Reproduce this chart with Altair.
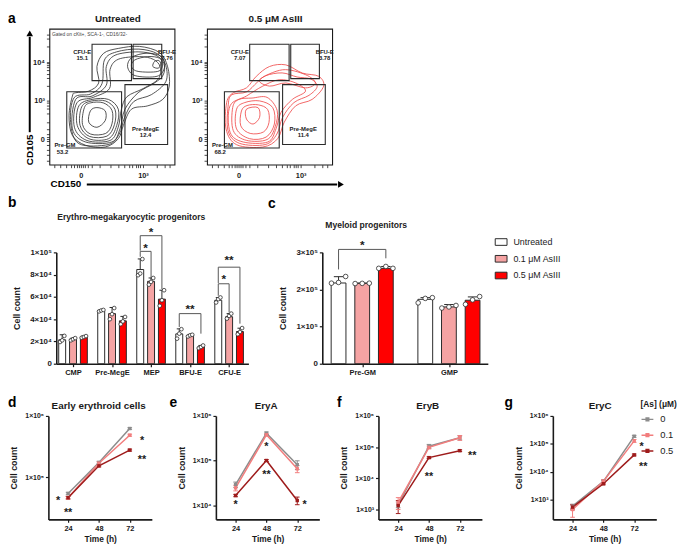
import altair as alt
import pandas as pd

FONT = "Liberation Sans"
INK = "#1a1a1a"
NOVIEW = alt.ViewBackground(stroke="transparent", strokeWidth=0)

# ---------------- panel a : flow cytometry ----------------
flow_titles = ["Untreated", "0.5 μM AsIII"]
flow_line_colors = ["#333333", "#ef4a4a"]
flow_x_ticks = [25.2, 74.8]
flow_x_labels = ["0", "10³"]
flow_y_ticks = [18.8, 47.1, 75.4]
flow_y_labels = ["0", "10³", "10⁴"]
flow_x_minor = [4, 9, 13, 17, 20, 22, 23.8, 26.6, 28.4, 30.5, 34, 40, 49, 55, 60, 63.5, 66.5, 69, 71, 72.8, 86, 92, 96]
flow_y_minor = [3, 7, 11, 14.5, 17.2, 20.4, 22.5, 26, 31, 38, 41.5, 43.8, 45.6, 58, 63.5, 67, 69.6, 71.6, 73.2, 74.4, 87, 92.5, 96]

gate_names = ["CFU-E", "BFU-E", "Pre-MegE", "Pre-GM"]
gate_x1 = [34.1, 66.9, 60.4, 13.9]
gate_x2 = [65.6, 89.8, 94.5, 57.7]
gate_y1 = [61.8, 63.3, 14.9, 12.3]
gate_y2 = [88.6, 88.6, 58.9, 53.6]
gate_name_x = [26.2, 94.0, 76.9, 12.4]
gate_name_y = [83.1, 83.1, 26.3, 14.7]
gate_freq_x = [26.2, 94.0, 76.9, 10.5]
gate_freq_y = [78.3, 78.3, 21.5, 9.4]
freq_untreated = ["15.1", "7.76", "12.4", "53.2"]
freq_asiii = ["7.07", "3.78", "11.4", "68.2"]

untreated_outer = [(18.4, 50.5), (15.7, 36.0), (18.4, 21.5), (28.9, 14.3), (44.6, 13.0), (55.1, 19.1), (59.1, 28.8), (65.6, 40.8), (78.7, 43.3), (90.6, 48.0), (95.8, 57.8), (94.5, 72.0), (88.0, 82.5), (72.0, 87.0), (55.1, 85.5), (43.3, 81.9), (38.0, 72.2), (39.4, 60.1), (31.5, 54.1), (21.0, 52.9)]
untreated_ring_a = [(19.7, 49.2), (17.0, 31.0), (23.5, 15.5), (47.0, 14.8), (55.8, 22.5), (60.0, 34.5), (67.5, 46.5), (81.5, 51.5), (93.0, 61.0), (93.0, 73.0), (86.5, 81.5), (71.5, 85.0), (53.8, 83.0), (44.0, 77.0), (42.0, 59.5), (33.0, 52.0)]
untreated_mid = [(21.0, 48.0), (18.4, 26.3), (28.9, 16.7), (49.9, 16.7), (56.4, 26.3), (60.4, 40.8), (70.9, 52.9), (84.0, 60.1), (91.0, 66.0), (91.5, 74.5), (85.0, 80.5), (70.9, 83.0), (52.5, 80.5), (45.5, 72.2), (45.5, 58.5), (34.1, 50.5)]
untreated_ring_b = [(22.0, 45.5), (20.0, 27.5), (30.0, 17.8), (48.5, 17.8), (55.0, 27.5), (57.5, 40.5), (62.0, 50.0), (75.0, 56.0), (87.0, 63.0), (88.5, 72.0), (83.0, 77.5), (72.0, 79.5), (55.0, 77.5), (48.5, 70.0), (48.0, 56.0), (35.0, 49.5)]
untreated_pregm = [(23.6, 43.3), (22.3, 28.8), (31.5, 19.1), (47.2, 19.1), (53.8, 28.8), (55.1, 40.8), (47.2, 48.0), (34.1, 48.0)]
untreated_ring_c = [(25.8, 42.5), (24.5, 29.0), (32.0, 20.8), (46.0, 21.0), (52.0, 29.5), (52.5, 40.5), (45.0, 46.8), (33.5, 46.8)]
untreated_ring = [(28.0, 42.0), (26.5, 29.5), (33.0, 22.5), (45.0, 23.0), (50.0, 30.0), (50.0, 40.0), (43.0, 45.5), (33.0, 45.5)]
untreated_core = [(32.8, 39.6), (31.5, 31.2), (38.0, 27.5), (44.6, 32.4), (44.6, 39.6), (38.0, 42.0)]
untreated_upper_ring = [(66.0, 79.0), (62.5, 72.0), (68.5, 65.5), (86.0, 65.0), (92.0, 71.5), (89.5, 79.5), (78.0, 82.0)]
untreated_upper = [(68.2, 77.0), (65.6, 72.2), (70.9, 68.6), (86.6, 68.6), (90.5, 73.4), (88.0, 78.3), (78.7, 79.5)]
untreated_upper_core = [(84.0, 75.9), (82.7, 72.2), (87.0, 71.0), (89.0, 74.0), (87.5, 76.6)]

asiii_outer = [(15.7, 45.7), (15.2, 26.3), (23.6, 14.7), (44.6, 13.0), (56.4, 19.1), (61.7, 31.2), (70.9, 43.3), (84.0, 48.0), (93.2, 57.8), (89.2, 65.0), (76.1, 67.4), (63.0, 73.4), (49.9, 72.2), (39.4, 65.0), (31.5, 56.5), (21.0, 52.9)]
asiii_ring_a = [(17.0, 44.5), (16.8, 25.0), (26.0, 15.7), (46.5, 14.8), (55.8, 22.5), (60.4, 34.8), (69.5, 45.7), (81.5, 51.0), (88.0, 57.5), (83.0, 63.0), (72.0, 64.5), (60.0, 67.5), (47.0, 65.5), (40.0, 60.5), (31.5, 53.5), (20.0, 51.5)]
asiii_mid = [(18.4, 43.3), (18.4, 23.9), (28.9, 16.7), (48.6, 16.7), (55.1, 26.3), (59.1, 38.4), (68.2, 48.0), (78.7, 54.1), (70.9, 60.1), (57.7, 62.5), (44.6, 57.8), (31.5, 50.5)]
asiii_ring_b = [(20.5, 42.0), (21.0, 25.0), (31.5, 17.9), (48.0, 18.5), (54.5, 28.0), (56.0, 40.0), (48.0, 49.5), (36.0, 49.0), (25.5, 48.0)]
asiii_tail = [(42.0, 62.5), (60.4, 69.8), (78.7, 66.2), (86.6, 60.1), (78.7, 56.5), (63.0, 60.1), (49.9, 57.8)]
asiii_pregm = [(23.6, 40.8), (23.6, 26.3), (34.1, 19.1), (47.2, 20.3), (53.8, 29.9), (52.5, 42.0), (42.0, 46.9), (30.2, 45.7)]
asiii_ring = [(27.5, 39.5), (27.0, 28.5), (34.5, 23.0), (45.0, 24.0), (49.5, 31.0), (48.5, 40.5), (41.0, 44.0), (32.0, 43.5)]
asiii_core = [(31.5, 40.8), (31.5, 33.6), (36.8, 29.9), (42.0, 34.8), (40.7, 42.0)]

flow_contours = [
    [untreated_outer, untreated_ring_a, untreated_mid, untreated_ring_b, untreated_pregm, untreated_ring_c,
     untreated_ring, untreated_core, untreated_upper_ring, untreated_upper, untreated_upper_core],
    [asiii_outer, asiii_ring_a, asiii_mid, asiii_ring_b, asiii_tail, asiii_pregm, asiii_ring, asiii_core],
]

# ---------------- panel b / c : bar charts ----------------
treatments = ["Untreated", "0.1 μM AsIII", "0.5 μM AsIII"]
bar_fills = ["#ffffff", "#f5a3a3", "#ff0000"]

b_groups = ["CMP", "Pre-MegE", "MEP", "BFU-E", "CFU-E"]
b_mean_untreated = [21500, 47500, 84600, 26800, 57000]
b_mean_low = [22000, 45000, 74000, 25300, 42200]
b_mean_high = [24000, 38500, 58000, 15000, 28900]
b_sd_untreated = [4500, 700, 9500, 4500, 2400]
b_sd_low = [1000, 5500, 3000, 1000, 2800]
b_sd_high = [800, 4000, 8000, 1400, 3000]
b_pts_untreated = [[19500, 21000, 25000], [47000, 47800, 48300], [79500, 81000, 94000], [22500, 27000, 31000], [55000, 58000, 59500]]
b_pts_low = [[21000, 22000, 23000], [40000, 44500, 50000], [71000, 73500, 77000], [24500, 25500, 26000], [40500, 43000, 45000]]
b_pts_high = [[23300, 24000, 24800], [35500, 38000, 42000], [52000, 57000, 66000], [14000, 15000, 16400], [26500, 28500, 32000]]
b_y_ticks = [0, 20000, 40000, 60000, 80000, 100000]
b_y_labels = ["0", "2×10⁴", "4×10⁴", "6×10⁴", "8×10⁴", "1×10⁵"]
# brackets: group, left treatment, right treatment, top, left leg end, right leg end, label, label height
b_brackets = [
    (2, 0, 1, 100900, 96000, 76000, "*", 106500),
    (2, 0, 2, 115000, 101500, 67000, "*", 121000),
    (3, 0, 2, 45000, 33000, 27000, "**", 51500),
    (4, 0, 1, 71800, 61000, 46000, "*", 78500),
    (4, 0, 2, 86700, 72500, 36000, "**", 95500),
]

c_groups = ["Pre-GM", "GMP"]
c_mean_untreated = [217500, 173500]
c_mean_low = [216700, 153000]
c_mean_high = [257000, 171000]
c_sd_untreated = [17000, 4500]
c_sd_low = [500, 6500]
c_sd_high = [5000, 9000]
c_pts_untreated = [[217000, 219000, 235000], [164000, 176000, 178000]]
c_pts_low = [[216000, 216500, 217000], [150000, 153000, 157000]]
c_pts_high = [[257000, 262000, 257000], [160000, 172000, 181000]]
c_y_ticks = [0, 100000, 200000, 300000]
c_y_labels = ["0", "1×10⁵", "2×10⁵", "3×10⁵"]
c_brackets = [(0, 0, 2, 308000, 254000, 284000, "*", 327000)]

# ---------------- panels d-g : time courses ----------------
doses = ["0", "0.1", "0.5"]
dose_colors = ["#8c8c8c", "#f27d7d", "#9e1b1b"]
times = [24, 48, 72]

d_mean_0 = [54600, 174600, 624000]
d_mean_01 = [46700, 170000, 486000]
d_mean_05 = [46700, 154000, 278000]
d_sd_0 = [2500, 8000, 20000]
d_sd_01 = [2500, 8000, 18000]
d_sd_05 = [2000, 6000, 10000]

e_mean_0 = [29300, 412000, 81500]
e_mean_01 = [24700, 378000, 66000]
e_mean_05 = [16700, 101000, 12900]
e_sd_0 = [4000, 25000, 18000]
e_sd_01 = [3500, 20000, 12000]
e_sd_05 = [1000, 5000, 2500]

f_mean_0 = [1440, 107000, 200000]
f_mean_01 = [1700, 98000, 200000]
f_mean_05 = [1340, 46000, 77000]
f_sd_0 = [300, 15000, 30000]
f_sd_01 = [700, 10000, 35000]
f_sd_05 = [600, 3000, 5000]

g_mean_0 = [583, 4500, 186000]
g_mean_01 = [442, 4500, 128000]
g_mean_05 = [537, 3700, 40000]
g_sd_0 = [100, 400, 15000]
g_sd_01 = [210, 700, 15000]
g_sd_05 = [110, 300, 3000]

d_star_x = [16.3, 24, 81.6, 81.6]
d_star_y = [46400, 29400, 430000, 212000]
d_star_t = ["*", "**", "*", "**"]
e_star_x = [24, 48, 48, 77.8]
e_star_y = [12100, 235000, 56000, 12100]
e_star_t = ["*", "*", "**", "*"]
f_star_x = [48, 81.7]
f_star_y = [13400, 66000]
f_star_t = ["**", "**"]
g_star_x = [77.8, 79.1]
g_star_y = [94000, 18200]
g_star_t = ["*", "**"]


def lab_expr(vals, labels):
    s = "''"
    for v, l in reversed(list(zip(vals, labels))):
        s = f"datum.value == {v!r} ? '{l}' : {s}"
    return s


def note(txt, x, y, size, bold=True, align="left", color="black"):
    return alt.Chart(pd.DataFrame({"t": [txt]})).mark_text(
        align=align, baseline="alphabetic", font=FONT, fontSize=size,
        fontWeight="bold" if bold else "normal", color=color
    ).encode(x=alt.value(x), y=alt.value(y), text="t:N")


def letter(ch, x, y):
    return note(ch, x, y, 14)


def letter_cell(ch, y, w):
    """Narrow cell that starts a row and carries the panel letter."""
    return letter(ch, 0, y).properties(width=w, height=1, view=NOVIEW)


def gap_cell(w):
    """Empty cell used to open a gap between two panels of a row."""
    return alt.Chart(pd.DataFrame({"t": pd.Series([], dtype=str)})).mark_text().encode(
        x=alt.value(0), y=alt.value(0), text="t:N").properties(width=w, height=1, view=NOVIEW)


# ---------- flow panels ----------
def flow_chart(k):
    rows = []
    for ci, loop in enumerate(flow_contours[k]):
        for i, (x, y) in enumerate(loop):
            rows.append({"cid": ci, "i": i, "x": x, "y": y})
    cdf = pd.DataFrame(rows)
    xsc = alt.Scale(domain=[0, 100], nice=False, zero=False)
    ysc = alt.Scale(domain=[0, 100], nice=False, zero=False)
    common = dict(domain=False, grid=False, tickSize=3, tickColor=INK, tickWidth=0.8,
                  labelFont=FONT, labelFontSize=7.5, labelFontWeight="bold", labelColor=INK,
                  labelOverlap=False, labelFlush=False, labelBound=False, title=None)
    xax = alt.Axis(values=flow_x_ticks + flow_x_minor, labelExpr=lab_expr(flow_x_ticks, flow_x_labels), labelPadding=4, **common)
    yax = alt.Axis(values=flow_y_ticks + flow_y_minor, labelExpr=lab_expr(flow_y_ticks, flow_y_labels), labelPadding=2, **common)

    def X(f):
        return alt.X(f, scale=xsc, axis=xax)

    def Y(f):
        return alt.Y(f, scale=ysc, axis=yax)

    lines = alt.Chart(cdf).mark_line(interpolate="cardinal-closed", strokeWidth=0.85, color=flow_line_colors[k]).encode(
        x=X("x:Q"), y=Y("y:Q"), detail="cid:N", order="i:Q")
    gdf = pd.DataFrame({"x1": gate_x1, "x2": gate_x2, "y1": gate_y1, "y2": gate_y2})
    gates = alt.Chart(gdf).mark_rect(filled=False, color="#2a2a2a", strokeWidth=1.1).encode(
        x=X("x1:Q"), x2="x2:Q", y=Y("y1:Q"), y2="y2:Q")
    freqs = [freq_untreated, freq_asiii][k]
    tdf = pd.DataFrame({
        "x": gate_name_x + gate_freq_x,
        "y": gate_name_y + gate_freq_y,
        "t": gate_names + freqs,
    })
    texts = alt.Chart(tdf).mark_text(font=FONT, fontSize=6, fontWeight="bold", color=INK).encode(
        x=X("x:Q"), y=Y("y:Q"), text="t:N")
    layers = [lines, gates, texts, note(flow_titles[k], 69.5, -6.5, 10, align="center", color=INK)]
    if k == 0:
        layers.append(alt.Chart(pd.DataFrame({"x": [2.0], "y": [96.2], "t": ["Gated on cKit+, SCA-1-, CD16/32-"]})).mark_text(
            align="left", font=FONT, fontSize=5, color="#444").encode(x=X("x:Q"), y=Y("y:Q"), text="t:N"))
        # axis arrows spanning the panel
        layers.append(alt.Chart(pd.DataFrame({"x": [-15.7], "y": [23.9], "y2": [94.0]})).mark_rule(strokeWidth=2, color="black").encode(
            x=X("x:Q"), y=Y("y:Q"), y2="y2:Q"))
        layers.append(alt.Chart(pd.DataFrame({"x": [-15.7], "y": [96.5]})).mark_point(
            shape="triangle-up", filled=True, size=45, color="black", opacity=1).encode(x=X("x:Q"), y=Y("y:Q")))
        layers.append(alt.Chart(pd.DataFrame({"x": [-15.7], "y": [10.9], "t": ["CD105"]})).mark_text(
            angle=270, font=FONT, fontSize=10, fontWeight="bold", color="black").encode(x=X("x:Q"), y=Y("y:Q"), text="t:N"))
        layers.append(alt.Chart(pd.DataFrame({"x": [29.9], "x2": [230.0], "y": [-14.5]})).mark_rule(strokeWidth=2, color="black").encode(
            x=X("x:Q"), x2="x2:Q", y=Y("y:Q")))
        layers.append(alt.Chart(pd.DataFrame({"x": [233.0], "y": [-14.5]})).mark_point(
            shape="triangle-right", filled=True, size=45, color="black", opacity=1).encode(x=X("x:Q"), y=Y("y:Q")))
        layers.append(alt.Chart(pd.DataFrame({"x": [13.2], "y": [-14.5], "t": ["CD150"]})).mark_text(
            font=FONT, fontSize=10, fontWeight="bold", color="black").encode(x=X("x:Q"), y=Y("y:Q"), text="t:N"))
    return alt.layer(*layers).properties(
        width=127, height=138,
        view=alt.ViewBackground(stroke=INK, strokeWidth=1.1),
    )


# ---------- bar panels ----------
def bar_chart(groups, means, sds, pts, brackets, gap, half, cap, spread, dot_size, domain_x,
              y_ticks, y_labels, y_max, width, title, title_pos, legend, tpad, let):
    bars, dots = [], []
    for t in range(3):
        for g, name in enumerate(groups):
            pos = g * gap + t
            m = means[t][g]
            bars.append({"treat": treatments[t], "pos": pos, "x1": pos - half, "x2": pos + half,
                         "mean": m, "base": 0, "hi": m + sds[t][g], "c1": pos - cap, "c2": pos + cap})
            for j, v in enumerate(pts[t][g]):
                dots.append({"px": pos + (j - 1) * spread, "val": v})
    bdf = pd.DataFrame(bars)
    ddf = pd.DataFrame(dots)
    segs, labs = [], []
    for (g, tl, tr, top, le, re, lab, ly) in brackets:
        xl, xr = g * gap + tl, g * gap + tr
        segs += [{"x": xl, "x2": xr, "y": top, "y2": top},
                 {"x": xl, "x2": xl, "y": le, "y2": top},
                 {"x": xr, "x2": xr, "y": re, "y2": top}]
        labs.append({"x": (xl + xr) / 2, "y": ly, "t": lab})
    sdf = pd.DataFrame(segs)
    ldf = pd.DataFrame(labs)

    xsc = alt.Scale(domain=domain_x, nice=False, zero=False)
    ysc = alt.Scale(domain=[0, y_max], nice=False)
    centers = [g * gap + 1 for g in range(len(groups))]
    xax = alt.Axis(values=centers, labelExpr=lab_expr(centers, groups), title=None, grid=False,
                   domainColor=INK, domainWidth=1.6, tickColor=INK, tickWidth=1.2, tickSize=3,
                   labelFont=FONT, labelFontSize=7.6, labelFontWeight="bold", labelColor=INK,
                   labelPadding=2, labelOverlap=False, labelFlush=False, labelAngle=0)
    yax = alt.Axis(values=y_ticks, labelExpr=lab_expr(y_ticks, y_labels), title="Cell count",
                   titleFont=FONT, titleFontSize=9, titleFontWeight="bold", titleColor=INK, titlePadding=tpad,
                   grid=False, domainColor=INK, domainWidth=1.6, tickColor=INK, tickWidth=1.2, tickSize=3,
                   labelFont=FONT, labelFontSize=8, labelFontWeight="bold", labelColor=INK, labelPadding=2,
                   labelOverlap=False, labelFlush=False)

    def X(f):
        return alt.X(f, scale=xsc, axis=xax)

    def Y(f):
        return alt.Y(f, scale=ysc, axis=yax)

    fill = alt.Fill("treat:N", scale=alt.Scale(domain=treatments, range=bar_fills), legend=legend)
    bar_l = alt.Chart(bdf).mark_rect(stroke="#2a2a2a", strokeWidth=1).encode(
        x=X("x1:Q"), x2="x2:Q", y=Y("mean:Q"), y2="base:Q", fill=fill)
    err_l = alt.Chart(bdf).mark_rule(color="#2a2a2a", strokeWidth=1).encode(x=X("pos:Q"), y=Y("mean:Q"), y2="hi:Q")
    cap_l = alt.Chart(bdf).mark_rule(color="#2a2a2a", strokeWidth=1).encode(x=X("c1:Q"), x2="c2:Q", y=Y("hi:Q"))
    dot_l = alt.Chart(ddf).mark_point(shape="circle", filled=True, fill="white", stroke="#2a2a2a", strokeWidth=0.8,
                                      size=dot_size, opacity=1).encode(x=X("px:Q"), y=Y("val:Q"))
    brk_l = alt.Chart(sdf).mark_rule(color="#555555", strokeWidth=1).encode(x=X("x:Q"), x2="x2:Q", y=Y("y:Q"), y2="y2:Q")
    star_l = alt.Chart(ldf).mark_text(font=FONT, fontSize=12, fontWeight="bold", color=INK, baseline="middle", dy=3).encode(
        x=X("x:Q"), y=Y("y:Q"), text="t:N")
    layers = [bar_l, err_l, cap_l, dot_l, brk_l, star_l, note(title, title_pos[0], title_pos[1], 8.7, color="#222")]
    if let:
        layers.append(letter(*let))
    return alt.layer(*layers).properties(width=width, height=113, view=NOVIEW)


b_chart = bar_chart(
    b_groups, [b_mean_untreated, b_mean_low, b_mean_high], [b_sd_untreated, b_sd_low, b_sd_high],
    [b_pts_untreated, b_pts_low, b_pts_high], b_brackets, 3.6, 0.32, 0.23, 0.2, 14, [-0.545, 17.18],
    b_y_ticks, b_y_labels, 100000, 195, "Erythro-megakaryocytic progenitors", (1, -33), None, 8, None)

c_legend = alt.Legend(title=None, orient="none", legendX=177, legendY=-15,
                      symbolType="M-1.6,-0.9H1.6V0.9H-1.6Z", symbolSize=56, symbolStrokeColor="#2a2a2a",
                      symbolStrokeWidth=1, labelFont=FONT, labelFontSize=9, labelColor=INK,
                      rowPadding=6, labelOffset=8, padding=0)
c_chart = bar_chart(
    c_groups, [c_mean_untreated, c_mean_low, c_mean_high], [c_sd_untreated, c_sd_low, c_sd_high],
    [c_pts_untreated, c_pts_low, c_pts_high], c_brackets, 3.667, 0.3125, 0.2, 0.3, 22, [-0.6875, 6.3125],
    c_y_ticks, c_y_labels, 300000, 168, "Myeloid progenitors", (3, -25), c_legend, 8.5, ("c", -55, -45))


# ---------- time-course panels ----------
def line_chart(title, means, sds, star_x, star_y, star_t, y_dom, y_ticks, let, title_x, show_legend):
    rows = []
    for di, dose in enumerate(doses):
        for ti, t in enumerate(times):
            m, s = means[di][ti], sds[di][ti]
            rows.append({"dose": dose, "time": t, "v": m, "lo": m - s, "hi": m + s, "c1": t - 1.8, "c2": t + 1.8})
    df = pd.DataFrame(rows)
    sdf = pd.DataFrame({"x": star_x, "y": star_y, "t": star_t})
    xsc = alt.Scale(domain=[8.66, 89.2], nice=False, zero=False)
    ysc = alt.Scale(type="log", domain=y_dom, nice=False)
    y_labels = ["1×10" + {3: "³", 4: "⁴", 5: "⁵", 6: "⁶"}[len(str(int(v))) - 1] for v in y_ticks]
    xax = alt.Axis(values=times, title="Time (h)", titleFont=FONT, titleFontSize=8.5, titleFontWeight="bold",
                   titleColor=INK, titlePadding=3, grid=False, domainColor=INK, domainWidth=1.6, tickColor=INK,
                   tickWidth=1.2, tickSize=3, labelFont=FONT, labelFontSize=7.5, labelFontWeight="bold",
                   labelColor=INK, labelPadding=2, labelFlush=False)
    yax = alt.Axis(values=y_ticks, labelExpr=lab_expr(y_ticks, y_labels), title="Cell count", titleFont=FONT,
                   titleFontSize=9, titleFontWeight="bold", titleColor=INK, titlePadding=6, grid=False,
                   domainColor=INK, domainWidth=1.6, tickColor=INK, tickWidth=1.2, tickSize=3, labelFont=FONT,
                   labelFontSize=7, labelFontWeight="bold", labelColor=INK, labelPadding=2, labelOverlap=False,
                   labelFlush=False)

    def X(f):
        return alt.X(f, scale=xsc, axis=xax)

    def Y(f):
        return alt.Y(f, scale=ysc, axis=yax)

    cscale = alt.Scale(domain=doses, range=dose_colors)
    if show_legend:
        leg = alt.Legend(title="[As] (μM)", orient="none", legendX=89, legendY=-16,
                         symbolType="M-1,0H1M-0.22,-0.22H0.22V0.22H-0.22Z", symbolSize=144, symbolStrokeWidth=1.5,
                         titleFont=FONT, titleFontSize=8.5, titleFontWeight="bold", titleColor=INK,
                         labelFont=FONT, labelFontSize=9.5, labelColor=INK, rowPadding=4, labelOffset=6,
                         titlePadding=4, padding=0)
    else:
        leg = None

    def C():
        return alt.Color("dose:N", scale=cscale, legend=leg)

    line_l = alt.Chart(df).mark_line(strokeWidth=1.5).encode(x=X("time:Q"), y=Y("v:Q"), color=C())
    err_l = alt.Chart(df).mark_rule(strokeWidth=1).encode(x=X("time:Q"), y=Y("lo:Q"), y2="hi:Q", color=C())
    caplo = alt.Chart(df).mark_rule(strokeWidth=1).encode(x=X("c1:Q"), x2="c2:Q", y=Y("lo:Q"), color=C())
    caphi = alt.Chart(df).mark_rule(strokeWidth=1).encode(x=X("c1:Q"), x2="c2:Q", y=Y("hi:Q"), color=C())
    pts = alt.Chart(df).mark_point(shape="square", filled=True, size=12, opacity=1).encode(
        x=X("time:Q"), y=Y("v:Q"), color=C())
    stars = alt.Chart(sdf).mark_text(font=FONT, fontSize=11, fontWeight="bold", color=INK, baseline="middle", dy=3).encode(
        x=X("x:Q"), y=Y("y:Q"), text="t:N")
    layers = [err_l, caplo, caphi, line_l, pts, stars, note(title, title_x, -7, 10, align="center", color=INK)]
    if let:
        layers.append(letter(*let))
    return alt.layer(*layers).properties(width=105, height=105, view=NOVIEW)


d_chart = line_chart("Early erythroid cells", [d_mean_0, d_mean_01, d_mean_05], [d_sd_0, d_sd_01, d_sd_05],
                     d_star_x, d_star_y, d_star_t, [20700, 1000000], [100000, 1000000], None, 51, False)
e_chart = line_chart("EryA", [e_mean_0, e_mean_01, e_mean_05], [e_sd_0, e_sd_01, e_sd_05],
                     e_star_x, e_star_y, e_star_t, [4890, 1000000], [10000, 100000, 1000000], ("e", -47, -9), 51, False)
f_chart = line_chart("EryB", [f_mean_0, f_mean_01, f_mean_05], [f_sd_0, f_sd_01, f_sd_05],
                     f_star_x, f_star_y, f_star_t, [482, 1000000], [1000, 10000, 100000, 1000000], ("f", -42, -9), 50, False)
g_chart = line_chart("EryC", [g_mean_0, g_mean_01, g_mean_05], [g_sd_0, g_sd_01, g_sd_05],
                     g_star_x, g_star_y, g_star_t, [195, 1000000], [1000, 10000, 100000, 1000000], ("g", -49, -9), 48, True)

# every row starts with a narrow cell holding its panel letter; gap cells set the distances between panels
row1 = alt.hconcat(letter_cell("a", -6, 9), flow_chart(0), flow_chart(1), spacing=33, bounds="flush")
row2 = alt.hconcat(letter_cell("b", -46, 39), b_chart, gap_cell(55), c_chart,
                   spacing=10, bounds="flush").resolve_scale(fill="independent")
row3 = alt.hconcat(letter_cell("d", -9, 31), d_chart, gap_cell(45), e_chart, gap_cell(40), f_chart, gap_cell(52), g_chart,
                   spacing=10, bounds="flush").resolve_scale(color="independent")

upper = alt.vconcat(row1, row2, spacing=6)
chart = alt.vconcat(upper, row3, spacing=20).properties(
    padding={"left": 0, "top": 0, "right": 0, "bottom": 0}
).configure_view(stroke="transparent", strokeWidth=0).configure(background="white")

chart.save("out.html", embed_options={"renderer": "svg", "actions": False})
